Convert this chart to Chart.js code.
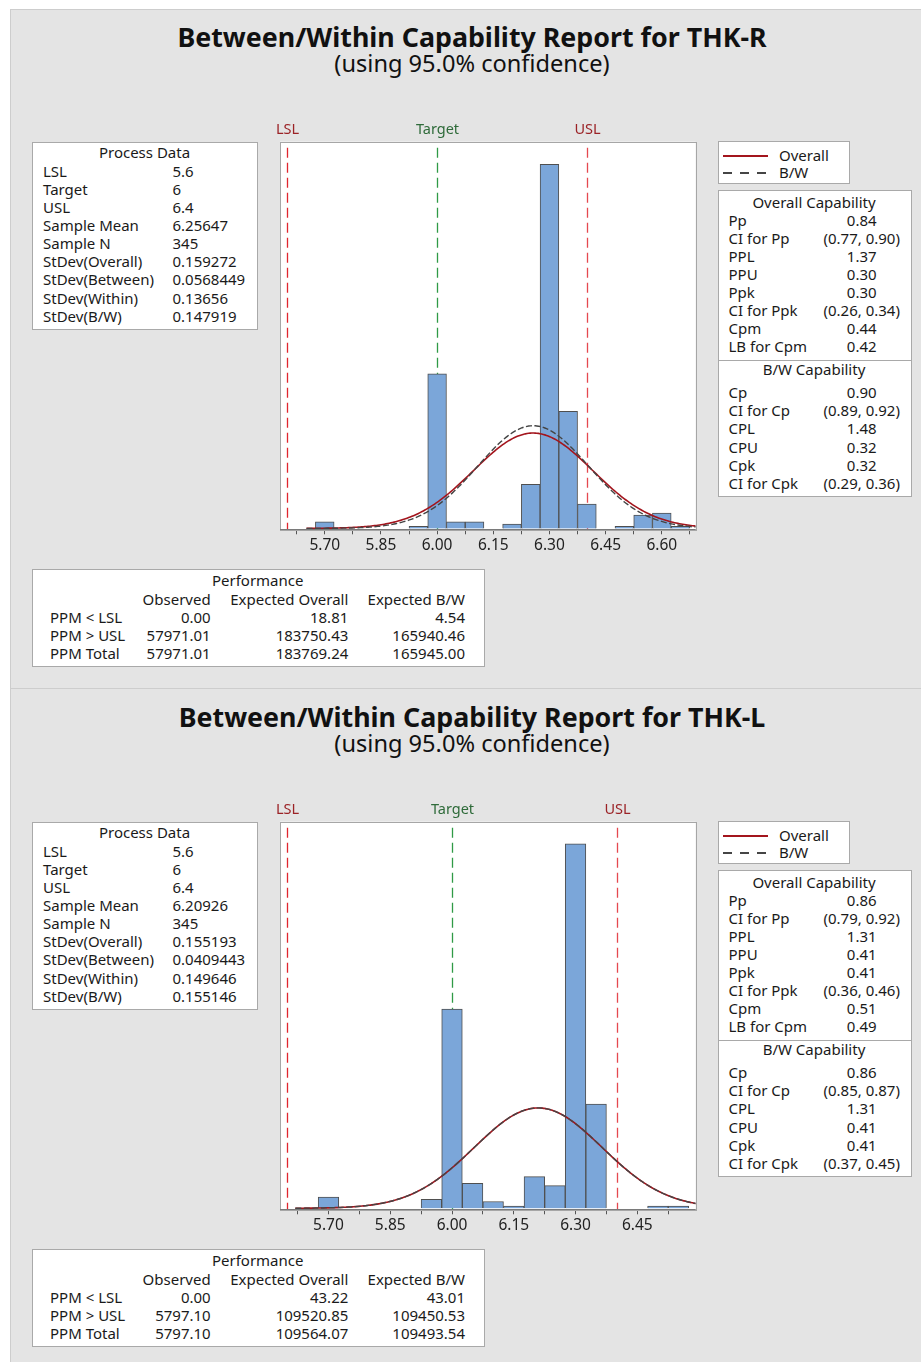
<!DOCTYPE html>
<html>
<head>
<meta charset="utf-8">
<script src="https://cdn.jsdelivr.net/npm/chart.js@4.4.1/dist/chart.umd.min.js"></script>
<style>
  html, body { margin: 0; padding: 0; }
  body { width: 921px; height: 1362px; overflow: hidden; background: #ffffff; position: relative;
         font-family: "Noto Sans", "Open Sans", sans-serif; color: #1a1a1a; }
  .panel { position: absolute; left: 10px; width: 911px; background: #e4e4e4;
           border-top: 1px solid #cdcdcd; border-left: 1px solid #cdcdcd; box-sizing: border-box; }
  .box { position: absolute; background: #ffffff; border: 1px solid #a9a9a9; box-sizing: border-box; }
  .t { position: absolute; white-space: nowrap; line-height: 1; font-size: 15px; }
  canvas { position: absolute; }
</style>
</head>
<body>
<script>
// ---- Report titles ----
const reportTitles = ["Between/Within Capability Report for THK-R", "Between/Within Capability Report for THK-L"];
const reportSubtitle = "(using 95.0% confidence)";

// ---- Histogram bins (bin centres and counts), bin width 0.05 ----
const binWidth = 0.05;
const binCentersR = [5.70, 5.95, 6.00, 6.05, 6.10, 6.20, 6.25, 6.30, 6.35, 6.40, 6.50, 6.55, 6.60, 6.65];
const binCountsR  = [3,    1,    70,   3,    3,    2,    20,   165,  53,   11,   1,    6,    7,    1];
const binCentersL = [5.70, 5.95, 6.00, 6.05, 6.10, 6.15, 6.20, 6.25, 6.30, 6.35, 6.50, 6.55];
const binCountsL  = [5,    4,    88,   11,   3,    1,    14,   10,   161,  46,   1,    1];

// ---- Specification limits ----
const specLabels = ["LSL", "Target", "USL"];
const specValues = [5.6, 6, 6.4];

// ---- X axis tick labels ----
const xTickLabelsR = ["5.70", "5.85", "6.00", "6.15", "6.30", "6.45", "6.60"];
const xTickLabelsL = ["5.70", "5.85", "6.00", "6.15", "6.30", "6.45"];

// ---- Process data ----
const processLabels = ["LSL", "Target", "USL", "Sample Mean", "Sample N", "StDev(Overall)", "StDev(Between)", "StDev(Within)", "StDev(B/W)"];
const processValuesR = ["5.6", "6", "6.4", "6.25647", "345", "0.159272", "0.0568449", "0.13656", "0.147919"];
const processValuesL = ["5.6", "6", "6.4", "6.20926", "345", "0.155193", "0.0409443", "0.149646", "0.155146"];

// ---- Capability ----
const overallCapLabels = ["Pp", "CI for Pp", "PPL", "PPU", "Ppk", "CI for Ppk", "Cpm", "LB for Cpm"];
const overallCapValuesR = ["0.84", "(0.77, 0.90)", "1.37", "0.30", "0.30", "(0.26, 0.34)", "0.44", "0.42"];
const overallCapValuesL = ["0.86", "(0.79, 0.92)", "1.31", "0.41", "0.41", "(0.36, 0.46)", "0.51", "0.49"];
const bwCapLabels = ["Cp", "CI for Cp", "CPL", "CPU", "Cpk", "CI for Cpk"];
const bwCapValuesR = ["0.90", "(0.89, 0.92)", "1.48", "0.32", "0.32", "(0.29, 0.36)"];
const bwCapValuesL = ["0.86", "(0.85, 0.87)", "1.31", "0.41", "0.41", "(0.37, 0.45)"];

// ---- Performance ----
const perfColumns = ["Observed", "Expected Overall", "Expected B/W"];
const perfRows = ["PPM < LSL", "PPM > USL", "PPM Total"];
const perfValuesR = [["0.00", "18.81", "4.54"], ["57971.01", "183750.43", "165940.46"], ["57971.01", "183769.24", "165945.00"]];
const perfValuesL = [["0.00", "43.22", "43.01"], ["5797.10", "109520.85", "109450.53"], ["5797.10", "109564.07", "109493.54"]];

const legendLabels = ["Overall", "B/W"];

// ---- Colours ----
const COL_OVERALL = "#a3151d";
const COL_BW = "#454545";
const COL_BAR = "#7ba6d9";
const COL_BAR_EDGE = "#4f4f4f";
const specLineColors = ["#e0262e", "#2f9a46", "#e5484f"];
const specTextColors = ["#9b2226", "#2f6b3a", "#9b2226"];

// ---- Layout helpers ----
function el(cls, css) {
  const d = document.createElement("div");
  d.className = cls;
  Object.assign(d.style, css);
  document.body.appendChild(d);
  return d;
}
function text(str, x, y, align, extra) {
  const d = el("t", Object.assign({ left: x + "px", top: (y - 1) + "px" }, extra || {}));
  d.textContent = str;
  const tx = align === "center" ? "-50%" : align === "right" ? "-100%" : "0";
  d.style.transform = "translate(" + tx + ",-50%)";
  return d;
}
function box(x, y, w, h) {
  return el("box", { left: x + "px", top: y + "px", width: w + "px", height: h + "px" });
}

function normalCurve(mean, sd, n, lo, hi) {
  const pts = [];
  const steps = 240;
  for (let i = 0; i <= steps; i++) {
    const x = lo + (hi - lo) * i / steps;
    const z = (x - mean) / sd;
    pts.push({ x: x, y: n * binWidth * Math.exp(-0.5 * z * z) / (sd * Math.sqrt(2 * Math.PI)) });
  }
  return pts;
}

// Plot frame, white background and specification lines
const framePlugin = {
  id: "frame",
  beforeDraw(chart) {
    const a = chart.chartArea, c = chart.ctx;
    c.save();
    c.fillStyle = "#ffffff";
    c.fillRect(a.left, a.top, a.right - a.left, a.bottom - a.top);
    c.restore();
  },
  beforeDatasetsDraw(chart) {
    const a = chart.chartArea, c = chart.ctx, xs = chart.scales.x;
    c.save();
    specValues.forEach((v, i) => {
      const px = Math.round(xs.getPixelForValue(v)) + 0.5;
      c.strokeStyle = specLineColors[i];
      c.lineWidth = 1.3;
      c.setLineDash([10, 5]);
      c.beginPath();
      c.moveTo(px, a.top + 6);
      c.lineTo(px, a.bottom);
      c.stroke();
      c.setLineDash([]);
      c.fillStyle = specTextColors[i];
      c.font = "14.5px 'Noto Sans'";
      c.textAlign = "center";
      c.textBaseline = "middle";
      c.fillText(specLabels[i], px, a.top - 11.5);
    });
    c.restore();
  },
  afterDraw(chart) {
    const a = chart.chartArea, c = chart.ctx;
    c.save();
    c.strokeStyle = "#a6a6a6";
    c.lineWidth = 1;
    c.strokeRect(Math.round(a.left) + 0.5, Math.round(a.top) + 0.5, Math.round(a.right - a.left), Math.round(a.bottom - a.top));
    c.strokeStyle = "#7a7a7a";
    c.beginPath();
    c.moveTo(a.left, Math.round(a.bottom) + 0.5);
    c.lineTo(a.right, Math.round(a.bottom) + 0.5);
    c.stroke();
    c.restore();
  }
};

function buildReport(r) {
  const off = r.off;

  // title block
  text(r.title, 472, 37.5 + off, "center", { fontSize: "26.8px", fontWeight: "700", color: "#111" });
  text(reportSubtitle, 472, 65 + off, "center", { fontSize: "23.6px", color: "#111" });

  // Process data
  box(32, 142 + off, 226, 188);
  text("Process Data", 144.5, 153.3 + off, "center");
  processLabels.forEach((l, i) => {
    text(l, 43, 171.7 + i * 18.12 + off, "left");
    text(r.processValues[i], 172.5, 171.7 + i * 18.12 + off, "left");
  });

  // Legend
  box(718, 141 + off, 132, 43);
  el("", { position: "absolute", left: "723px", top: (155 + off) + "px", width: "45px", height: "2px", background: COL_OVERALL });
  el("", { position: "absolute", left: "723px", top: (172 + off) + "px", width: "44px", height: "1.6px",
    background: "repeating-linear-gradient(to right, " + COL_BW + " 0 9px, transparent 9px 17px)" });
  text(legendLabels[0], 779, 155.5 + off, "left");
  text(legendLabels[1], 779, 173 + off, "left");

  // Capability tables
  box(718, 190 + off, 194, 307);
  el("", { position: "absolute", left: "718px", top: (360 + off) + "px", width: "194px", height: "1px", background: "#a9a9a9" });
  text("Overall Capability", 814, 203.3 + off, "center");
  overallCapLabels.forEach((l, i) => {
    text(l, 728.5, 221 + i * 18.05 + off, "left");
    text(r.overallCap[i], 861.7, 221 + i * 18.05 + off, "center");
  });
  text("B/W Capability", 814, 370 + off, "center");
  bwCapLabels.forEach((l, i) => {
    text(l, 728.5, 392.7 + i * 18.3 + off, "left");
    text(r.bwCap[i], 861.7, 392.7 + i * 18.3 + off, "center");
  });

  // Performance
  box(32, 569 + off, 453, 98);
  text("Performance", 257.7, 581 + off, "center");
  const colRight = [210.7, 348.3, 465];
  perfColumns.forEach((c, j) => text(c, colRight[j], 600 + off, "right"));
  perfRows.forEach((rw, i) => {
    const y = 618.3 + i * 17.9 + off;
    text(rw, 50, y, "left");
    r.perf[i].forEach((v, j) => text(v, colRight[j], y, "right"));
  });

  // Histogram with fitted normal curves
  const cv = document.createElement("canvas");
  cv.width = 440; cv.height = 460;
  cv.style.left = "270px"; cv.style.top = (110 + off) + "px";
  document.body.appendChild(cv);

  const mean = parseFloat(r.processValues[3]);
  const n = parseFloat(r.processValues[4]);
  const sdOverall = parseFloat(r.processValues[5]);
  const sdBW = parseFloat(r.processValues[8]);
  const lo = Math.max(r.xMin, mean - 3.8 * sdOverall);
  const tickVals = r.ticks.map(parseFloat);

  new Chart(cv.getContext("2d"), {
    type: "bar",
    data: {
      datasets: [
        { type: "bar", data: r.centers.map((c, i) => ({ x: c, y: r.counts[i] })),
          backgroundColor: COL_BAR, borderColor: COL_BAR_EDGE, borderWidth: 1,
          barPercentage: 1, categoryPercentage: 1, grouped: false, order: 3 },
        { type: "line", data: normalCurve(mean, sdOverall, n, lo, r.xMax),
          borderColor: COL_OVERALL, borderWidth: 1.6, pointRadius: 0, tension: 0, order: 2 },
        { type: "line", data: normalCurve(mean, sdBW, n, lo, r.xMax),
          borderColor: COL_BW, borderWidth: 1.4, borderDash: [6, 2.5], pointRadius: 0, tension: 0, order: 1 }
      ]
    },
    options: {
      responsive: false, animation: false, devicePixelRatio: 1,
      layout: { padding: { left: 10, right: 14.3, top: 31.7, bottom: 0.7 } },
      plugins: { legend: { display: false }, tooltip: { enabled: false } },
      scales: {
        x: {
          type: "linear", min: r.xMin, max: r.xMax, offset: false,
          afterBuildTicks: (s) => {
            const vals = [];
            tickVals.forEach((v) => {
              [v - 0.075, v, v + 0.075].forEach((t) => {
                if (t >= s.min && t <= s.max && !vals.some((u) => Math.abs(u - t) < 1e-6)) vals.push(t);
              });
            });
            s.ticks = vals.sort((a, b) => a - b).map((v) => ({ value: v }));
          },
          afterFit: (s) => { s.height = 40; },
          ticks: {
            autoSkip: false, maxRotation: 0, padding: 2, color: "#222",
            font: { family: "Noto Sans", size: 15.5 },
            callback: (v) => {
              const i = tickVals.findIndex((t) => Math.abs(t - v) < 1e-6);
              return i >= 0 ? r.ticks[i] : "";
            }
          },
          grid: { drawOnChartArea: false, drawTicks: true, tickLength: 5, color: "#555", offset: false },
          border: { display: false }
        },
        y: { display: false, min: r.yMin, max: r.yMax }
      }
    },
    plugins: [framePlugin]
  });
}

// panels
el("panel", { top: "9px", height: "680px" });
el("panel", { top: "688px", height: "674px" });

buildReport({ off: 0, title: reportTitles[0], centers: binCentersR, counts: binCountsR,
  processValues: processValuesR, overallCap: overallCapValuesR, bwCap: bwCapValuesR, perf: perfValuesR,
  ticks: xTickLabelsR, xMin: 5.5805, xMax: 6.6905, yMin: -0.4, yMax: 175.2 });
buildReport({ off: 680, title: reportTitles[1], centers: binCentersL, counts: binCountsL,
  processValues: processValuesL, overallCap: overallCapValuesL, bwCap: bwCapValuesL, perf: perfValuesL,
  ticks: xTickLabelsL, xMin: 5.5823, xMax: 6.5918, yMin: -0.44, yMax: 170.8 });
</script>
</body>
</html>
